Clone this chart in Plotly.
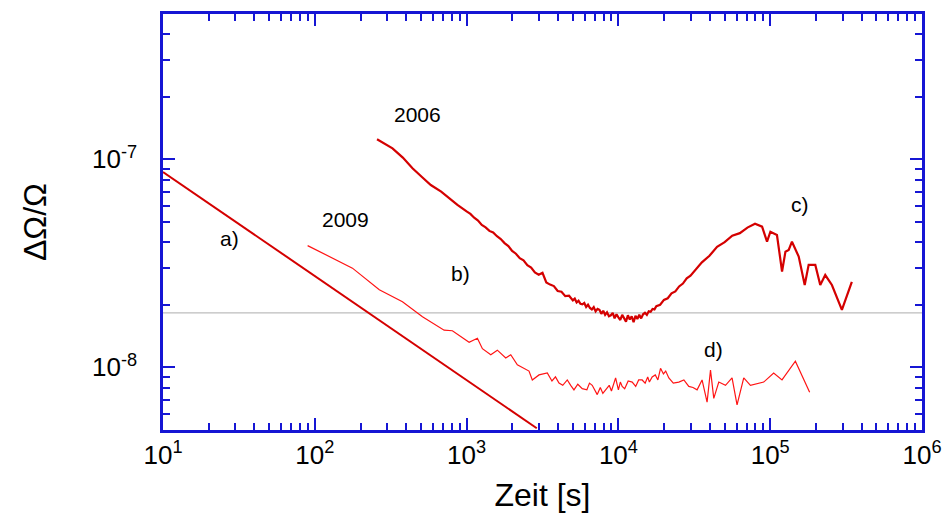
import plotly.graph_objects as go

# ---- data -------------------------------------------------------------
# a) power-law reference line
t_a = [10, 2900]
r_a = [8.7e-8, 5.1e-9]

# 2006 measurement (b/c)
t_2006 = [257, 290, 325, 380, 440, 510, 581, 680, 767, 870,
          1000, 1059, 1122, 1189, 1259, 1334, 1413, 1496, 1585, 1679,
          1778, 1884, 1995, 2113, 2239, 2371, 2512, 2661, 2818, 2985,
          3162, 3350, 3548, 3758, 3981, 4217, 4467, 4732, 5012, 5158,
          5309, 5464, 5623, 5788, 5957, 6131, 6310, 6494, 6683, 6879,
          7079, 7286, 7499, 7718, 7943, 8175, 8414, 8660, 8913, 9173,
          9441, 9716, 10000, 10292, 10593, 10902, 11220, 11548, 11885, 12232,
          12589, 12957, 13335, 13725, 14125, 14538, 14962, 15399, 15849, 16312,
          16788, 17278, 17783, 18836, 19953, 21135, 22387, 23714, 25119, 26607,
          28184, 29854, 31623, 35481, 39811, 44668, 50119, 56234, 63096, 70795,
          79433, 88400, 95300, 100300, 110800, 119700, 126000, 132400, 139100, 154100,
          168800, 179200, 198200, 213700, 230500, 255000, 296700, 345000]
r_2006 = [12.5, 11.9, 11.3, 10.2, 9.06, 8.2, 7.53, 7.0, 6.50, 6.05,
          5.62, 5.47, 5.24, 5.08, 4.84, 4.71, 4.53, 4.45, 4.27, 4.14,
          3.96, 3.83, 3.63, 3.52, 3.35, 3.27, 3.10, 3.02, 2.86, 2.79,
          2.85, 2.56, 2.50, 2.46, 2.33, 2.31, 2.20, 2.21, 2.10, 2.14,
          2.05, 2.09, 2.02, 2.01, 2.04, 1.95, 2.00, 1.93, 1.90, 1.95,
          1.86, 1.91, 1.89, 1.81, 1.87, 1.79, 1.84, 1.76, 1.78, 1.83,
          1.72, 1.80, 1.74, 1.69, 1.79, 1.73, 1.66, 1.78, 1.70, 1.76,
          1.65, 1.77, 1.71, 1.79, 1.72, 1.80, 1.83, 1.79, 1.86, 1.85,
          1.91, 1.90, 1.97, 2.00, 2.11, 2.15, 2.27, 2.32, 2.45, 2.53,
          2.68, 2.76, 2.91, 3.20, 3.44, 3.80, 4.00, 4.30, 4.42, 4.70,
          4.90, 4.75, 4.02, 4.49, 4.33, 2.89, 3.60, 3.67, 4.02, 3.41,
          2.49, 3.11, 3.11, 2.49, 2.78, 2.49, 1.89, 2.58]
r_2006 = [v * 1e-8 for v in r_2006]

# 2009 measurement (d)
t_2009 = [89.7, 177, 266, 378, 512, 711, 806, 1039, 1178, 1271,
          1443, 1594, 1811, 1954, 2159, 2577, 2710, 2999, 3401, 3650,
          3850, 4062, 4300, 4605, 4850, 5096, 5400, 5779, 6200, 6450,
          6724, 7000, 7254, 7600, 7900, 8239, 8700, 9000, 9300, 9585,
          10000, 10300, 10590, 11000, 11600, 12330, 13000, 13600, 14340, 15000,
          15600, 16000, 16690, 17500, 18200, 18950, 19800, 20500, 21490, 23000,
          25000, 27000, 29090, 31000, 32990, 35580, 38390, 40430, 42500, 45840,
          50750, 56070, 60480, 66950, 74100, 90640, 105400, 119600, 146500, 181900]
r_2009 = [3.85, 3.00, 2.36, 2.07, 1.75, 1.51, 1.50, 1.32, 1.38, 1.23,
          1.15, 1.21, 1.11, 1.15, 1.03, 0.96, 0.87, 0.92, 0.94, 0.86,
          0.90, 0.84, 0.82, 0.87, 0.82, 0.78, 0.83, 0.79, 0.78, 0.84,
          0.82, 0.78, 0.74, 0.80, 0.75, 0.78, 0.82, 0.77, 0.84, 0.89,
          0.78, 0.85, 0.81, 0.79, 0.86, 0.85, 0.81, 0.87, 0.87, 0.84,
          0.90, 0.85, 0.90, 0.92, 0.87, 0.99, 0.93, 0.96, 0.89, 0.84,
          0.85, 0.87, 0.81, 0.80, 0.78, 0.87, 0.68, 0.97, 0.71, 0.85,
          0.82, 0.89, 0.66, 0.89, 0.82, 0.85, 0.94, 0.87, 1.07, 0.76]
r_2009 = [v * 1e-8 for v in r_2009]

# horizontal reference level
ref_level = 1.83e-8
t_span = [10, 1e6]

# axis ticks
x_tickvals = [1e1, 1e2, 1e3, 1e4, 1e5, 1e6]
x_ticktext = ["10<sup>1</sup>", "10<sup>2</sup>", "10<sup>3</sup>",
              "10<sup>4</sup>", "10<sup>5</sup>", "10<sup>6</sup>"]
y_tickvals = [1e-8, 1e-7]
y_ticktext = ["10<sup>-8</sup>", "10<sup>-7</sup>"]

# curve labels: (text, log10 t, log10 ΔΩ/Ω)
labels = [("2006", 2.676, -6.786), ("2009", 2.205, -7.291),
          ("a)", 1.44, -7.379), ("b)", 2.962, -7.548),
          ("c)", 5.199, -7.219), ("d)", 4.628, -7.916)]

# ---- figure -----------------------------------------------------------
BLUE = "#1616d4"
FONT = "Liberation Sans, Arial, sans-serif"

fig = go.Figure()
fig.add_trace(go.Scatter(x=t_span, y=[ref_level, ref_level], mode="lines",
                         line=dict(color="#bdbdbd", width=1.3), hoverinfo="skip"))
fig.add_trace(go.Scatter(x=t_a, y=r_a, mode="lines",
                         line=dict(color="#d40000", width=2)))
fig.add_trace(go.Scatter(x=t_2009, y=r_2009, mode="lines",
                         line=dict(color="#ff1414", width=1.2)))
fig.add_trace(go.Scatter(x=t_2006, y=r_2006, mode="lines",
                         line=dict(color="#d40000", width=2.2)))

for text, lx, ly in labels:
    fig.add_annotation(x=lx, y=ly, xref="x", yref="y", text=text, showarrow=False,
                       font=dict(family=FONT, size=21, color="black"))

axis_common = dict(
    type="log", tickmode="array",
    showline=True, linecolor=BLUE, linewidth=2.5, mirror="allticks",
    ticks="inside", ticklen=12, tickwidth=2, tickcolor=BLUE,
    minor=dict(ticks="inside", ticklen=7, tickwidth=2, tickcolor=BLUE, dtick="D1", showgrid=False),
    showgrid=False, zeroline=False,
    tickfont=dict(family=FONT, size=26, color="black"),
)

fig.update_xaxes(**axis_common, range=[1, 6], tickvals=x_tickvals, ticktext=x_ticktext,
                 ticklabelstandoff=0,
                 title=dict(text="Zeit [s]", font=dict(family=FONT, size=32, color="black"),
                            standoff=18))
fig.update_yaxes(**axis_common, range=[-8.30103, -6.30103], tickvals=y_tickvals,
                 ticktext=y_ticktext, ticklabelstandoff=18,
                 title=dict(text="ΔΩ/Ω", font=dict(family=FONT, size=32, color="black"),
                            standoff=36))

fig.update_layout(
    width=949, height=513,
    margin=dict(l=163, r=27, t=14, b=83, autoexpand=False),
    paper_bgcolor="white", plot_bgcolor="white",
    showlegend=False,
)

fig.write_html("out.html")
